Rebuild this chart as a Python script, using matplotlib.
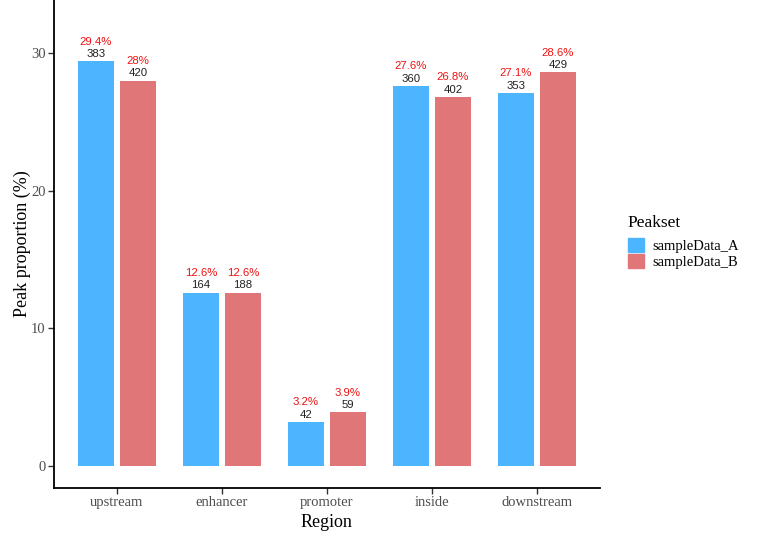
import matplotlib
matplotlib.use("Agg")
import matplotlib.pyplot as plt
import matplotlib.patches as mpatches
import numpy as np

REGIONS = ["upstream", "enhancer", "promoter", "inside", "downstream"]
SAMPLES = ["sampleData_A", "sampleData_B"]
PCT_A = [29.4, 12.6, 3.2, 27.6, 27.1]
PCT_B = [28.0, 12.6, 3.9, 26.8, 28.6]
COUNT_A = [383, 164, 42, 360, 353]
COUNT_B = [420, 188, 59, 402, 429]
PCT_LABELS_A = ["29.4%", "12.6%", "3.2%", "27.6%", "27.1%"]
PCT_LABELS_B = ["28%", "12.6%", "3.9%", "26.8%", "28.6%"]
COLORS = ["#4DB5FF", "#E07677"]

SERIF = "Liberation Serif"
SANS = "Liberation Sans"

fig = plt.figure(figsize=(7.7, 5.33), dpi=100)
ax = fig.add_axes([0.0701, 0.0844, 0.709, 0.9156])

x = np.arange(len(REGIONS))
width = 0.35
offset = 0.2

series = [
    (PCT_A, COUNT_A, PCT_LABELS_A, -offset),
    (PCT_B, COUNT_B, PCT_LABELS_B, offset),
]
for (pct, cnt, plab, off), color in zip(series, COLORS):
    ax.bar(x + off, pct, width=width, color=color, edgecolor="none")
    for xi, p, c, pl in zip(x + off, pct, cnt, plab):
        ax.annotate(str(c), (xi, p), xytext=(0, 1.5), textcoords="offset points",
                    ha="center", va="bottom", fontsize=8.2, family=SANS, color="#222222")
        ax.annotate(pl, (xi, p), xytext=(0, 10.5), textcoords="offset points",
                    ha="center", va="bottom", fontsize=8.2, family=SANS, color="#EE1111")

ax.set_xlim(-0.6, 4.6)
ax.set_ylim(-1.6, 33.85)
ax.set_yticks([0, 10, 20, 30])
ax.set_xticks(x)
ax.set_xticklabels(REGIONS)

for lab in ax.get_xticklabels() + ax.get_yticklabels():
    lab.set_family(SERIF)
    lab.set_fontsize(10.5)
    lab.set_color("#4D4D4D")

ax.tick_params(axis="both", direction="out", length=4, width=1, color="#333333", pad=2)
ax.spines["top"].set_visible(False)
ax.spines["right"].set_visible(False)
ax.spines["left"].set_linewidth(1.3)
ax.spines["bottom"].set_linewidth(1.3)

ax.set_xlabel("Region", family=SERIF, fontsize=13, labelpad=3)
ax.set_ylabel("Peak proportion (%)", family=SERIF, fontsize=13, labelpad=0)

handles = [mpatches.Patch(color=c, label=s) for c, s in zip(COLORS, SAMPLES)]
leg = fig.legend(handles=handles, title="Peakset", loc="upper left",
                 bbox_to_anchor=(0.8075, 0.607), frameon=False,
                 prop={"family": SERIF, "size": 10.5},
                 handlelength=1.1, handleheight=1.1, handletextpad=0.6,
                 labelspacing=0.1, borderaxespad=0)
leg.get_title().set_family(SERIF)
leg.get_title().set_fontsize(12.5)
leg._legend_box.align = "left"
leg._legend_box.sep = 4.7

fig.savefig("out.png", dpi=100)
